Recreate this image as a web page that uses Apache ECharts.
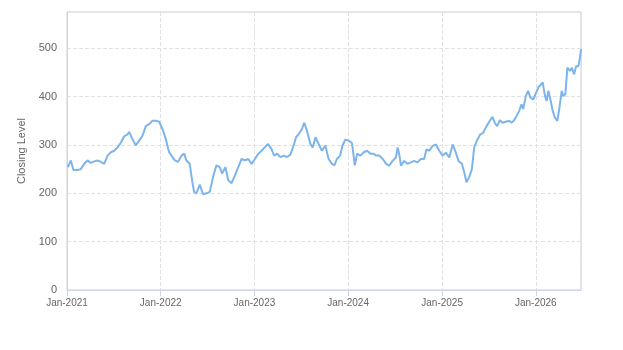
<!DOCTYPE html>
<html>
<head>
    <meta charset="utf-8">
    <title>Closing Level</title>
    <script src="https://cdn.jsdelivr.net/npm/echarts@6/dist/echarts.min.js"></script>
    <style>
        html, body { margin: 0; padding: 0; background: #fff; }
        #chart { width: 623px; height: 350px; }
    </style>
</head>
<body>
<div id="chart"></div>
<script type="text/javascript">
    // closing level, every two weeks
    var dates = [
        '2021-01-04', '2021-01-16', '2021-01-26', '2021-02-11', '2021-02-24', '2021-03-09', '2021-03-22',
        '2021-04-04', '2021-04-17', '2021-04-30', '2021-05-13', '2021-05-26', '2021-06-08', '2021-06-21',
        '2021-07-04', '2021-07-17', '2021-07-30', '2021-08-12', '2021-08-25', '2021-08-31', '2021-09-13',
        '2021-09-26', '2021-10-09', '2021-10-22', '2021-11-04', '2021-11-17', '2021-11-30', '2021-12-13',
        '2021-12-26', '2022-01-08', '2022-01-21', '2022-01-30', '2022-02-03', '2022-02-12', '2022-02-25',
        '2022-03-10', '2022-03-23', '2022-04-02', '2022-04-11', '2022-04-24', '2022-05-04', '2022-05-11',
        '2022-05-20', '2022-06-02', '2022-06-15', '2022-06-28', '2022-07-11', '2022-07-24', '2022-08-06',
        '2022-08-19', '2022-08-28', '2022-09-10', '2022-09-21', '2022-10-04', '2022-10-17', '2022-10-30',
        '2022-11-12', '2022-11-25', '2022-12-08', '2022-12-21', '2023-01-03', '2023-01-16', '2023-01-29',
        '2023-02-10', '2023-02-23', '2023-03-08', '2023-03-19', '2023-03-30', '2023-04-12', '2023-04-25',
        '2023-05-08', '2023-05-21', '2023-06-03', '2023-06-12', '2023-06-22', '2023-07-05', '2023-07-14',
        '2023-07-25', '2023-08-07', '2023-08-16', '2023-08-27', '2023-09-08', '2023-09-21', '2023-10-04',
        '2023-10-17', '2023-10-30', '2023-11-09', '2023-11-18', '2023-12-01', '2023-12-10', '2023-12-21',
        '2024-01-03', '2024-01-16', '2024-01-27', '2024-02-05', '2024-02-18', '2024-03-02', '2024-03-15',
        '2024-03-28', '2024-04-10', '2024-04-18', '2024-05-02', '2024-05-15', '2024-05-28', '2024-06-09',
        '2024-06-22', '2024-07-05', '2024-07-12', '2024-07-18', '2024-07-25', '2024-08-06', '2024-08-19',
        '2024-09-01', '2024-09-14', '2024-09-27', '2024-10-10', '2024-10-23', '2024-11-01', '2024-11-12',
        '2024-11-25', '2024-12-08', '2024-12-21', '2025-01-03', '2025-01-16', '2025-01-29', '2025-02-11',
        '2025-02-21', '2025-03-06', '2025-03-19', '2025-03-28', '2025-04-06', '2025-04-16', '2025-04-27',
        '2025-05-06', '2025-05-19', '2025-05-30', '2025-06-10', '2025-06-23', '2025-07-06', '2025-07-16',
        '2025-07-25', '2025-08-03', '2025-08-14', '2025-08-24', '2025-09-06', '2025-09-19', '2025-09-28',
        '2025-10-07', '2025-10-18', '2025-10-28', '2025-11-06', '2025-11-13', '2025-11-23', '2025-12-02',
        '2025-12-11', '2025-12-22', '2026-01-02', '2026-01-11', '2026-01-20', '2026-01-28', '2026-02-06',
        '2026-02-12', '2026-02-19', '2026-02-28', '2026-03-08', '2026-03-17', '2026-03-26', '2026-04-03',
        '2026-04-12', '2026-04-18', '2026-04-26', '2026-05-04', '2026-05-14', '2026-05-21', '2026-05-30',
        '2026-06-07', '2026-06-16', '2026-06-22', '2026-06-26'
    ];
    var closing = [
        254, 268, 248, 248, 250, 261, 268,
        263, 266, 268, 265, 261, 278, 285,
        288, 295, 305, 318, 322, 327, 312,
        299, 309, 319, 339, 343, 350, 350,
        348, 333, 312, 292, 285, 278, 268,
        265, 278, 282, 268, 261, 224, 203,
        200, 218, 198, 200, 203, 234, 258,
        254, 241, 254, 227, 221, 237, 254,
        271, 268, 271, 261, 271, 282, 288,
        295, 302, 292, 278, 282, 275, 278,
        275, 280, 299, 316, 322, 333, 346,
        329, 302, 295, 316, 302, 288, 299,
        271, 261, 258, 271, 278, 299, 311,
        309, 304, 258, 282, 278, 285, 288,
        282, 282, 278, 278, 271, 261, 257,
        267, 274, 295, 281, 257, 267, 261,
        264, 267, 264, 271, 271, 291, 288,
        298, 301, 288, 278, 284, 274, 301,
        288, 267, 261, 244, 223, 233, 250,
        295, 312, 322, 325, 339, 350, 358,
        346, 339, 351, 346, 348, 350, 346,
        350, 360, 370, 384, 374, 401, 412,
        398, 394, 408, 419, 425, 429, 401,
        391, 412, 391, 370, 356, 350, 377,
        412, 401, 405, 460, 453, 460, 446,
        463, 463, 481, 498
    ];
    var yMax = 575;
    var monthNames = ['Jan', 'Feb', 'Mar', 'Apr', 'May', 'Jun', 'Jul', 'Aug', 'Sep', 'Oct', 'Nov', 'Dec'];

    var seriesData = [];
    for (var i = 0; i < dates.length; i++) {
        seriesData.push([dates[i], closing[i]]);
    }

    var myChart = echarts.init(document.getElementById('chart'));
    myChart.setOption({
        animation: false,
        textStyle: { fontFamily: 'Liberation Sans, Arial, sans-serif' },
        grid: {
            left: 67, right: 42, top: 12, bottom: 60,
            show: true,
            borderColor: '#cccccc',
            borderWidth: 1
        },
        xAxis: {
            type: 'time',
            min: '2021-01-01',
            max: 'dataMax',
            splitNumber: 6,
            axisLine: { lineStyle: { color: '#ccd6eb' } },
            axisTick: { show: true, length: 6, lineStyle: { color: '#ccd6eb' } },
            axisLabel: {
                color: '#666666',
                fontSize: 10,
                margin: 8,
                formatter: function (v) {
                    var d = new Date(v);
                    return monthNames[d.getMonth()] + '-' + d.getFullYear();
                }
            },
            splitLine: { show: true, lineStyle: { color: '#e0e0e0', type: 'dashed' } }
        },
        yAxis: {
            type: 'value',
            min: 0,
            max: yMax,
            interval: 100,
            name: 'Closing Level',
            nameLocation: 'middle',
            nameGap: 40,
            nameTextStyle: { color: '#666666', fontSize: 11 },
            axisLine: { show: true, lineStyle: { color: '#ccd6eb' } },
            axisTick: { show: false },
            axisLabel: { color: '#666666', fontSize: 11, margin: 10, showMaxLabel: false },
            splitLine: { show: true, showMaxLine: false, lineStyle: { color: '#e0e0e0', type: 'dashed' } }
        },
        series: [{
            name: 'Closing Level',
            type: 'line',
            data: seriesData,
            showSymbol: false,
            lineStyle: { color: '#7cb5ec', width: 2 },
            itemStyle: { color: '#7cb5ec' }
        }]
    });
</script>
</body>
</html>
